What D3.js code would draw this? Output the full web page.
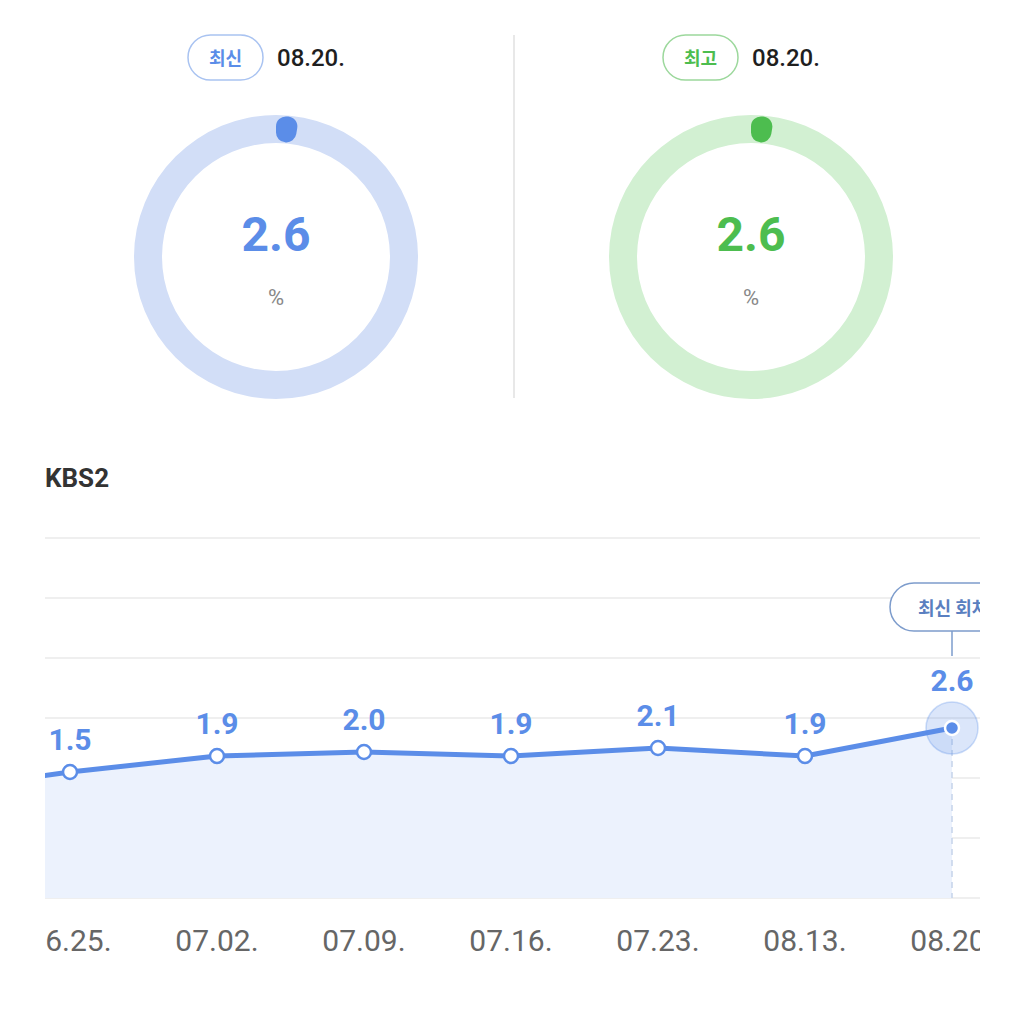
<!DOCTYPE html>
<html><head><meta charset="utf-8">
<script src="https://cdn.jsdelivr.net/npm/d3@7"></script>
<style>
html,body{margin:0;padding:0;background:#fff;}
svg{display:block;}
</style></head>
<body>
<svg id="c" width="1024" height="1023"></svg>
<script>
// ---- data ----
const gaugeLabels = ["최신", "최고"];
const gaugeDates = ["08.20.", "08.20."];
const gaugeValues = [2.6, 2.6];
const gaugeMax = 100;
const channel = "KBS2";
const dates = ["06.18.", "06.25.", "07.02.", "07.09.", "07.16.", "07.23.", "08.13.", "08.20."];
const ratings = [1.0, 1.5, 1.9, 2.0, 1.9, 2.1, 1.9, 2.6];
const latestTag = "최신 회차";

const svg = d3.select("#c");
const KR = "'Noto Sans CJK KR','Noto Sans',sans-serif";
const NUM = "Roboto,'Noto Sans',sans-serif";
const blue = "#5b8de8", blueRing = "#d2def7", blueBorder = "#a9c3f1";
const green = "#4dbd4f", greenRing = "#d2f0d2", greenBorder = "#9cd89c";
const themes = [
  {main: blue, ring: blueRing, border: blueBorder},
  {main: green, ring: greenRing, border: greenBorder}
];

// ---- gauges ----
const centers = [276, 751];
const r0 = 114, r1 = 142;
gaugeValues.forEach((v, i) => {
  const cx = centers[i], th = themes[i];
  const g = svg.append("g");
  // badge
  g.append("rect").attr("x", cx - 88).attr("y", 35).attr("width", 75).attr("height", 45)
    .attr("rx", 22.5).attr("fill", "#fff").attr("stroke", th.border).attr("stroke-width", 1.5);
  g.append("text").attr("x", cx - 50.5).attr("y", 57).attr("text-anchor", "middle")
    .attr("dominant-baseline", "central").attr("font-family", KR).attr("font-size", 18)
    .attr("font-weight", 700).attr("fill", th.main).text(gaugeLabels[i]);
  g.append("text").attr("x", cx + 1).attr("y", 58).attr("dominant-baseline", "central")
    .attr("font-family", NUM).attr("font-size", 24).attr("font-weight", 500)
    .attr("fill", "#1f1f1f").text(gaugeDates[i]);
  // ring
  const gg = g.append("g").attr("transform", `translate(${cx},257)`);
  const arc = d3.arc().innerRadius(r0).outerRadius(r1);
  gg.append("path").attr("d", arc({startAngle: 0, endAngle: 2 * Math.PI})).attr("fill", th.ring);
  const a = d3.scaleLinear().domain([0, gaugeMax]).range([0, 2 * Math.PI]);
  gg.append("path").attr("d", d3.arc().innerRadius(r0 + 1).outerRadius(r1 - 1).cornerRadius(10)
    ({startAngle: 0, endAngle: a(v)})).attr("fill", th.main);
  gg.append("text").attr("y", -23).attr("text-anchor", "middle").attr("dominant-baseline", "central")
    .attr("font-family", NUM).attr("font-size", 48).attr("font-weight", 700).attr("fill", th.main)
    .text(v.toFixed(1));
  gg.append("text").attr("y", 40).attr("text-anchor", "middle").attr("dominant-baseline", "central")
    .attr("font-family", NUM).attr("font-size", 22).attr("fill", "#888").text("%");
});
svg.append("line").attr("x1", 514).attr("x2", 514).attr("y1", 35).attr("y2", 398)
  .attr("stroke", "#e8e8e8").attr("stroke-width", 2);

// ---- title ----
svg.append("text").attr("x", 45).attr("y", 478).attr("dominant-baseline", "central")
  .attr("font-family", NUM).attr("font-size", 26).attr("font-weight", 700).attr("fill", "#333")
  .text(channel);

// ---- line chart ----
const L = 45, R = 980, T = 538, B = 898;
svg.append("clipPath").attr("id", "clip").append("rect")
  .attr("x", L).attr("y", 500).attr("width", R - L).attr("height", 500);
const chart = svg.append("g").attr("clip-path", "url(#clip)");

const x = d3.scalePoint().domain(dates).range([-77, 952]);
const y = d3.scaleLinear().domain([-1.65, 7.35]).range([B, T]);

// gridlines
const gridVals = d3.range(7).map(i => y.domain()[0] + i * (y.domain()[1] - y.domain()[0]) / 6);
chart.selectAll(".grid").data(gridVals).join("line")
  .attr("x1", L).attr("x2", R).attr("y1", d => y(d)).attr("y2", d => y(d))
  .attr("stroke", "#efefef").attr("stroke-width", 2);

const pts = dates.map((d, i) => ({d, v: ratings[i]}));
chart.append("path").datum(pts)
  .attr("d", d3.area().x(p => x(p.d)).y0(B).y1(p => y(p.v)))
  .attr("fill", "#ecf2fd");

const last = pts[pts.length - 1];
// dashed vertical
chart.append("line").attr("x1", x(last.d)).attr("x2", x(last.d))
  .attr("y1", y(last.v)).attr("y2", B)
  .attr("stroke", "#c5d3ea").attr("stroke-width", 1.5).attr("stroke-dasharray", "6,5");

chart.append("path").datum(pts)
  .attr("d", d3.line().x(p => x(p.d)).y(p => y(p.v)))
  .attr("fill", "none").attr("stroke", blue).attr("stroke-width", 5).attr("stroke-linejoin", "round");

// halo
chart.append("circle").attr("cx", x(last.d)).attr("cy", y(last.v)).attr("r", 26)
  .attr("fill", "rgba(91,141,232,0.22)").attr("stroke", "rgba(91,141,232,0.3)").attr("stroke-width", 1.5);

chart.selectAll(".pt").data(pts.slice(0, -1)).join("circle")
  .attr("cx", p => x(p.d)).attr("cy", p => y(p.v)).attr("r", 7)
  .attr("fill", "#fff").attr("stroke", blue).attr("stroke-width", 2.5);
chart.append("circle").attr("cx", x(last.d)).attr("cy", y(last.v)).attr("r", 7)
  .attr("fill", blue).attr("stroke", "#fff").attr("stroke-width", 2.5);

// value labels
chart.selectAll(".vl").data(pts).join("text")
  .attr("x", p => x(p.d)).attr("y", (p, i) => y(p.v) - (i === pts.length - 1 ? 48 : 33))
  .attr("text-anchor", "middle").attr("dominant-baseline", "central")
  .attr("font-family", NUM).attr("font-size", 30).attr("font-weight", 700).attr("fill", blue)
  .text(p => p.v.toFixed(1));

// latest tag
const tx = x(last.d);
chart.append("line").attr("x1", tx).attr("x2", tx).attr("y1", 631).attr("y2", 656)
  .attr("stroke", "#7d9ccc").attr("stroke-width", 1.5);
chart.append("rect").attr("x", 890).attr("y", 583).attr("width", 130).attr("height", 48)
  .attr("rx", 24).attr("fill", "#fff").attr("stroke", "#7d9ccc").attr("stroke-width", 1.5);
chart.append("text").attr("x", 918).attr("y", 607).attr("dominant-baseline", "central")
  .attr("font-family", KR).attr("font-size", 18).attr("font-weight", 700).attr("fill", "#5a7fc0")
  .text(latestTag);

// x labels
chart.selectAll(".xl").data(dates).join("text")
  .attr("x", d => x(d)).attr("y", 940).attr("text-anchor", "middle").attr("dominant-baseline", "central")
  .attr("font-family", NUM).attr("font-size", 30).attr("fill", "#666").text(d => d);
</script>
</body></html>
